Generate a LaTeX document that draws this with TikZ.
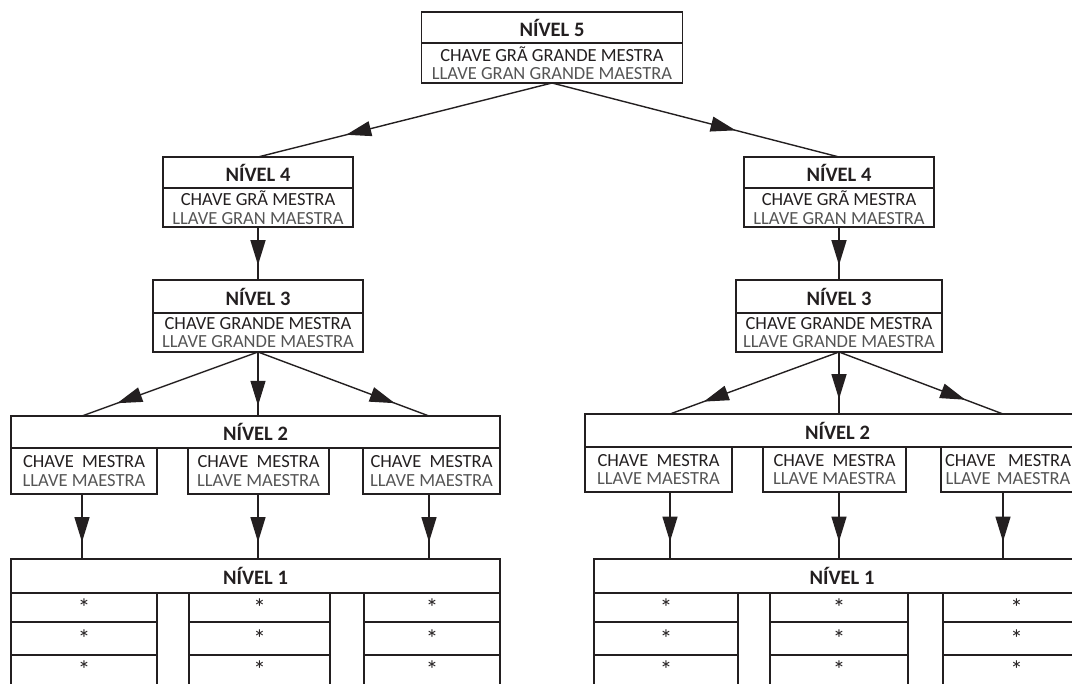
\documentclass[tikz,border=0pt]{standalone}
\usepackage{fontspec}
\setmainfont{Carlito}
\usetikzlibrary{arrows.meta,decorations.markings,calc}
\definecolor{ink}{HTML}{231F20}
\definecolor{grayt}{HTML}{555555}
\newcommand{\esp}{\textcolor{grayt}}
\tikzset{
  bx/.style n args={2}{draw=ink, line width=1.1pt, rectangle, inner sep=0pt, outer sep=0pt,
     minimum width=#1, minimum height=#2, text=ink, align=center},
  edge/.style={draw=ink, line width=1.1pt},
  hdr/.style={font=\fontsize{20.5}{21}\selectfont\bfseries},
  bod/.style={font=\fontsize{18.5}{18.5}\selectfont},
  cell/.style={font=\fontsize{25}{25}\selectfont},
  conn/.style={draw=ink, line width=1.4pt, postaction={decorate},
     decoration={markings, mark=at position #1 with {\arrow{Triangle[length=25pt,width=15pt]}}}},
}
\newcommand{\mystar}{\raisebox{-7pt}{*}}
\begin{document}
\begin{tikzpicture}[x=1pt,y=-1pt]
\useasboundingbox (0,0) rectangle (1072,684);
\clip (0,0) rectangle (1072,684);
% Level 5
\node[bx={261}{31},hdr] (L5h) at (552,27.5) {NÍVEL 5};
\node[bx={261}{40},bod] (L5b) at (552,63) {CHAVE GRÃ GRANDE MESTRA\\\esp{LLAVE GRAN GRANDE MAESTRA}};
% ---------- left branch
\node[bx={190}{31},hdr] (L4Lh) at (258,172.5) {NÍVEL 4};
\node[bx={190}{39},bod] (L4Lb) at (258,207.5) {CHAVE GRÃ MESTRA\\\esp{LLAVE GRAN MAESTRA}};
\node[bx={210}{33},hdr] (L3Lh) at (258,296.5) {NÍVEL 3};
\node[bx={210}{39},bod] (L3Lb) at (258,332.5) {CHAVE GRANDE MESTRA\\\esp{LLAVE GRANDE MAESTRA}};
\node[bx={489}{32},hdr] (L2Lh) at (255.5,432) {NÍVEL 2};
\node[bx={146}{46},bod] (L2L1) at (84,471) {CHAVE\ \ MESTRA\\\esp{LLAVE MAESTRA}};
\node[bx={141}{46},bod] (L2L2) at (258.5,471) {CHAVE\ \ MESTRA\\\esp{LLAVE MAESTRA}};
\node[bx={137}{46},bod] (L2L3) at (431.5,471) {CHAVE\ \ MESTRA\\\esp{LLAVE MAESTRA}};
\node[bx={489}{34},hdr] (L1Lh) at (255.5,576) {NÍVEL 1};
\foreach \c/\x/\w in {1/84/146,2/259.5/141,3/432/136}{
  \node[bx={\w}{29},cell] (L1L\c a) at (\x,607.5) {\mystar};
  \node[bx={\w}{33},cell] (L1L\c b) at (\x,638.5) {\mystar};
  \node[bx={\w}{29},cell,draw=none] (L1L\c c) at (\x,669.5) {\mystar};
  \draw[edge] ($(L1L\c c.south west)+(0,6)$) -- (L1L\c c.north west)
              (L1L\c c.north east) -- ($(L1L\c c.south east)+(0,6)$);
}
% ---------- right branch
\node[bx={190}{31},hdr] (L4Rh) at (839,172.5) {NÍVEL 4};
\node[bx={190}{39},bod] (L4Rb) at (839,207.5) {CHAVE GRÃ MESTRA\\\esp{LLAVE GRAN MAESTRA}};
\node[bx={206}{33},hdr] (L3Rh) at (839,296.5) {NÍVEL 3};
\node[bx={206}{39},bod] (L3Rb) at (839,332.5) {CHAVE GRANDE MESTRA\\\esp{LLAVE GRANDE MAESTRA}};
\node[bx={505}{33},hdr] (L2Rh) at (837.5,430.5) {NÍVEL 2};
\node[bx={147}{45},bod] (L2R1) at (658.5,469.5) {CHAVE\ \ MESTRA\\\esp{LLAVE MAESTRA}};
\node[bx={143}{45},bod] (L2R2) at (834.5,469.5) {CHAVE\ \ MESTRA\\\esp{LLAVE MAESTRA}};
\node[bx={0}{45},bod,anchor=west,text width=128pt,inner xsep=3pt] (L2R3) at (941,469.5) {CHAVE\ \ MESTRA\\\esp{LLAVE MAESTRA}};
\node[bx={496}{34},hdr] (L1Rh) at (842,576) {NÍVEL 1};
\foreach \c/\x/\w in {1/666/144,2/839/138,3/1016.5/147}{
  \node[bx={\w}{29},cell] (L1R\c a) at (\x,607.5) {\mystar};
  \node[bx={\w}{33},cell] (L1R\c b) at (\x,638.5) {\mystar};
  \node[bx={\w}{29},cell,draw=none] (L1R\c c) at (\x,669.5) {\mystar};
  \draw[edge] ($(L1R\c c.south west)+(0,6)$) -- (L1R\c c.north west)
              (L1R\c c.north east) -- ($(L1R\c c.south east)+(0,6)$);
}
% arrow columns
\coordinate (aL1) at (82,0);
\coordinate (aL2) at (258,0);
\coordinate (aL3) at (429,0);
\coordinate (aR1) at (670,0);
\coordinate (aR2) at (839,0);
\coordinate (aR3) at (1003,0);
% connectors
\draw[conn=0.70] (L5b.south) -- (L4Lh.north);
\draw[conn=0.64] (L5b.south) -- (L4Rh.north);
\draw[conn=0.72] (L4Lb.south) -- (L3Lh.north);
\draw[conn=0.72] (L4Rb.south) -- (L3Rh.north);
\draw[conn=0.80] (L3Lb.south) -- (L2Lh.north -| aL1);
\draw[conn=0.84] (L3Lb.south) -- (L2Lh.north -| aL2);
\draw[conn=0.80] (L3Lb.south) -- (L2Lh.north -| aL3);
\draw[conn=0.80] (L3Rb.south) -- (L2Rh.north -| aR1);
\draw[conn=0.76] (L3Rb.south) -- (L2Rh.north -| aR2);
\draw[conn=0.77] (L3Rb.south) -- (L2Rh.north -| aR3);
\foreach \i in {1,2,3}{
  \draw[conn=0.74] (L2L\i.south -| aL\i) -- (L1Lh.north -| aL\i);
  \draw[conn=0.74] (L2R\i.south -| aR\i) -- (L1Rh.north -| aR\i);
}
\end{tikzpicture}
\end{document}
